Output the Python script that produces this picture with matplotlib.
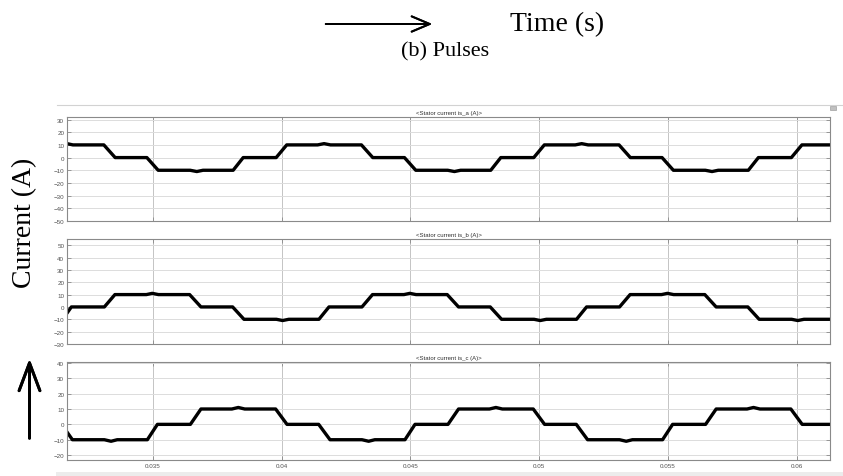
# -*- coding: utf-8 -*-

# Import required libraries
import matplotlib
matplotlib.use('Agg')
import matplotlib.pyplot as plt
from matplotlib.lines import Line2D
from matplotlib.patches import Rectangle

# Parameters for the figure
plt.rcParams['font.family'] = 'Liberation Sans'
plt.rcParams['axes.edgecolor'] = '#8a8a8a'
plt.rcParams['axes.linewidth'] = 0.8
plt.rcParams['xtick.color'] = '#8a8a8a'
plt.rcParams['ytick.color'] = '#8a8a8a'
plt.rcParams['xtick.labelcolor'] = '#505050'
plt.rcParams['ytick.labelcolor'] = '#505050'
plt.rcParams['xtick.labelsize'] = 4.5
plt.rcParams['ytick.labelsize'] = 4.5

# Stator current phase a (time in s, current in A)
t_a = [0.03167, 0.0319, 0.0331, 0.03354, 0.03477, 0.03521, 0.03645, 0.03671,
       0.03695, 0.03812, 0.03851, 0.03979, 0.0402, 0.0414, 0.04165, 0.0419,
       0.0431, 0.04354, 0.04477, 0.04521, 0.04645, 0.04671, 0.04695, 0.04812,
       0.04851, 0.04979, 0.0502, 0.0514, 0.05165, 0.0519, 0.0531, 0.05354,
       0.05477, 0.05521, 0.05645, 0.05671, 0.05695, 0.05812, 0.05851, 0.05979,
       0.0602, 0.0613]
i_a = [11, 10, 10, 0, 0, -10, -10, -11,
       -10, -10, 0, 0, 10, 10, 11, 10,
       10, 0, 0, -10, -10, -11, -10, -10,
       0, 0, 10, 10, 11, 10, 10, 0,
       0, -10, -10, -11, -10, -10, 0, 0,
       10, 10]

# Stator current phase b
t_b = [0.03167, 0.03184, 0.03312, 0.03353, 0.03475, 0.03498, 0.03522, 0.03643,
       0.03687, 0.0381, 0.03854, 0.0398, 0.04004, 0.04028, 0.04145, 0.04184,
       0.04312, 0.04353, 0.04475, 0.04498, 0.04522, 0.04643, 0.04687, 0.0481,
       0.04854, 0.0498, 0.05004, 0.05028, 0.05145, 0.05184, 0.05312, 0.05353,
       0.05475, 0.05498, 0.05522, 0.05643, 0.05687, 0.0581, 0.05854, 0.0598,
       0.06004, 0.06028, 0.0613]
i_b = [-5, 0, 0, 10, 10, 11, 10, 10,
       0, 0, -10, -10, -11, -10, -10, 0,
       0, 10, 10, 11, 10, 10, 0, 0,
       -10, -10, -11, -10, -10, 0, 0, 10,
       10, 11, 10, 10, 0, 0, -10, -10,
       -11, -10, -10]

# Stator current phase c
t_c = [0.03167, 0.03188, 0.03312, 0.03338, 0.03362, 0.03479, 0.03518, 0.03646,
       0.03687, 0.03807, 0.03832, 0.03857, 0.03977, 0.04021, 0.04144, 0.04188,
       0.04312, 0.04338, 0.04362, 0.04479, 0.04518, 0.04646, 0.04687, 0.04807,
       0.04832, 0.04857, 0.04977, 0.05021, 0.05144, 0.05188, 0.05312, 0.05338,
       0.05362, 0.05479, 0.05518, 0.05646, 0.05687, 0.05807, 0.05832, 0.05857,
       0.05977, 0.06021, 0.0613]
i_c = [-5, -10, -10, -11, -10, -10, 0, 0,
       10, 10, 11, 10, 10, 0, 0, -10,
       -10, -11, -10, -10, 0, 0, 10, 10,
       11, 10, 10, 0, 0, -10, -10, -11,
       -10, -10, 0, 0, 10, 10, 11, 10,
       10, 0, 0]

# Titles and tick labels
titles = ['<Stator current is_a (A)>', '<Stator current is_b (A)>',
          '<Stator current is_c (A)>']
x_ticks = [0.035, 0.04, 0.045, 0.05, 0.055, 0.06]
x_labels = ['0.035', '0.04', '0.045', '0.05', '0.055', '0.06']
y_ticks = [[-50, -40, -30, -20, -10, 0, 10, 20, 30],
           [-30, -20, -10, 0, 10, 20, 30, 40, 50],
           [-20, -10, 0, 10, 20, 30, 40]]
y_limits = [(-50, 32), (-30, 55), (-23.2, 40.6)]

W, H = 843, 477
fig = plt.figure(figsize=(W / 100, H / 100), dpi=100)

# Axes boxes in pixels: (top, bottom)
boxes = [(118, 222), (240, 345), (363, 461)]
left, right = 67, 830

series = [(t_a, i_a), (t_b, i_b), (t_c, i_c)]
for k, ((top, bot), (t, i)) in enumerate(zip(boxes, series)):
    ax = fig.add_axes([left / W, 1 - bot / H, (right - left) / W, (bot - top) / H])
    ax.plot(t, i, color='k', lw=2.4, solid_joinstyle='round')
    ax.set_xlim(0.03167, 0.06129)
    ax.set_ylim(*y_limits[k])
    ax.set_yticks(y_ticks[k])
    ax.set_xticks(x_ticks)
    if k == 2:
        ax.set_xticklabels(x_labels)
    else:
        ax.set_xticklabels([])
    ax.tick_params(direction='in', length=3, width=0.6, top=True, right=True, pad=2)
    ax.grid(axis='y', color='#dcdcdc', lw=0.7)
    ax.grid(axis='x', color='#c4c4c4', lw=0.7)
    ax.set_axisbelow(True)
    ax.set_title(titles[k], fontsize=4.3, color='#303030', pad=2.5)

# Scope window decorations
fig.add_artist(Line2D([57 / W, 1], [1 - 105.5 / H] * 2, color='#d2d2d2', lw=0.8))
fig.add_artist(Rectangle((56 / W, 0), 1, 4 / H, color='#ececec', lw=0))
fig.add_artist(Rectangle((830 / W, 1 - 111 / H), 6 / W, 4 / H,
                         facecolor='#c0c0c0', edgecolor='#909090', lw=0.4))

# Axis annotations with arrows
fig.text(557 / W, 1 - 25 / H, 'Time (s)', family='Liberation Serif',
         fontsize=20, ha='center', va='center')
fig.text(445 / W, 1 - 52 / H, '(b) Pulses', family='Liberation Serif',
         fontsize=16, ha='center', va='center')
fig.text(25 / W, 1 - 223 / H, 'Current (A)', family='Liberation Serif',
         fontsize=20, ha='center', va='center', rotation=90)
fig.add_artist(plt.annotate(
    '', xy=(435 / W, 1 - 25 / H), xytext=(323 / W, 1 - 25 / H),
    xycoords='figure fraction',
    arrowprops=dict(arrowstyle='->,head_length=1.3,head_width=0.55', lw=1.4, color='k')))
fig.add_artist(plt.annotate(
    '', xy=(29.5 / W, 1 - 357 / H), xytext=(29.5 / W, 1 - 442 / H),
    xycoords='figure fraction',
    arrowprops=dict(arrowstyle='->,head_length=2.0,head_width=0.75', lw=2.1, color='k')))

plt.savefig('out.png', dpi=100)
